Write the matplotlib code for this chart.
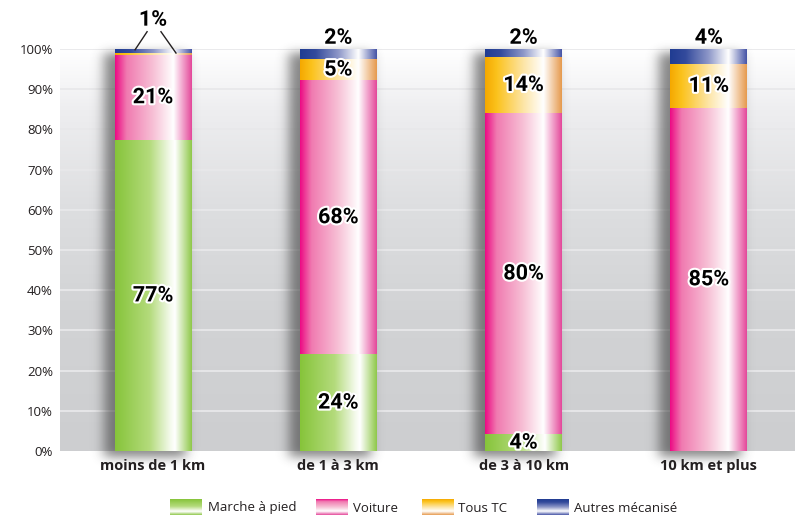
import math
import numpy as np
import matplotlib
matplotlib.use("Agg")
import matplotlib.pyplot as plt
import matplotlib.patheffects as pe
from matplotlib.colors import to_rgb

# ---- data -------------------------------------------------------------
categories = ["moins de 1 km", "de 1 à 3 km", "de 3 à 10 km", "10 km et plus"]
series_names = ["Marche à pied", "Voiture", "Tous TC", "Autres mécanisé"]
marche = [77.4, 24.1, 4.2, 0.0]
voiture = [21.2, 68.1, 79.9, 85.4]
tous_tc = [0.4, 5.4, 13.9, 10.9]
autres = [1.0, 2.4, 2.0, 3.7]
y_ticks = list(range(0, 101, 10))

# ---- styling ----------------------------------------------------------
W, H, DPI = 795, 516, 100
label_font = ["Roboto", "DejaVu Sans"]
text_font = ["Open Sans", "DejaVu Sans"]
ink = "#231f20"

# horizontal gradient stops per series: (position, colour)
gradients = [
    [(0.0, "#86c43a"), (0.45, "#b4db7c"), (0.72, "#f4faec"), (0.78, "#ffffff"), (1.0, "#8fc84a")],
    [(0.0, "#ec0a84"), (0.15, "#f07ab0"), (0.5, "#f7c1d6"), (0.76, "#ffffff"), (1.0, "#e4489a")],
    [(0.0, "#f5a800"), (0.15, "#fbc21c"), (0.5, "#fde5a6"), (0.76, "#ffffff"), (1.0, "#e69a4e")],
    [(0.0, "#203c92"), (0.2, "#334a9c"), (0.5, "#8d97c8"), (0.76, "#ffffff"), (1.0, "#4654a6")],
]


def gradient_row(stops, n=256):
    t = np.linspace(0, 1, n)
    pos = [p for p, _ in stops]
    cols = np.array([to_rgb(c) for _, c in stops])
    rgb = np.stack([np.interp(t, pos, cols[:, k]) for k in range(3)], axis=-1)
    return rgb


fig = plt.figure(figsize=(W / DPI, H / DPI), dpi=DPI)
fig.patch.set_facecolor("white")

ax_left, ax_right = 60, 795
ax_top, ax_bottom = 49, 451
ax = fig.add_axes([ax_left / W, (H - ax_bottom) / H,
                   (ax_right - ax_left) / W, (ax_bottom - ax_top) / H])

x_lo, x_hi = -0.502, 3.465
px_x = (x_hi - x_lo) / (ax_right - ax_left)   # data units per pixel (x)
px_y = 100.0 / (ax_bottom - ax_top)           # data units per pixel (y)

# plot-area background: grey at the bottom fading to white at the top
yy = np.linspace(0, 1, 256)
bg_pos = [0.0, 0.35, 0.6, 0.85, 1.0]
bg_col = np.array([to_rgb(c) for c in ["#cdced0", "#d2d3d5", "#dddee0", "#eeeef0", "#ffffff"]])
bg = np.stack([np.interp(yy, bg_pos, bg_col[:, k]) for k in range(3)], axis=-1)[:, None, :]
ax.imshow(bg, extent=[x_lo, x_hi, 0, 100], origin="lower", aspect="auto",
          interpolation="bilinear", zorder=0)

for v in y_ticks[1:]:
    ax.axhline(v, color="#e8e8ea", lw=1.3, zorder=1)

x = np.arange(len(categories))
bar_w = 0.415
stack = [marche, voiture, tous_tc, autres]

verf = np.vectorize(math.erf)


def soft_box(coord, a, b, s):
    return 0.5 * (verf((coord - a) / (s * math.sqrt(2))) - verf((coord - b) / (s * math.sqrt(2))))


# drop shadows behind each bar
for i, xc in enumerate(x):
    total = sum(s[i] for s in stack)
    gx0 = xc - bar_w / 2 - 35 * px_x
    gx1 = xc + bar_w / 2 + 10 * px_x
    gy0 = -25 * px_y
    gy1 = total + 8 * px_y
    nx, ny = 160, 220
    X = np.linspace(gx0, gx1, nx) / px_x
    Y = np.linspace(gy0, gy1, ny) / px_y
    a = (xc - bar_w / 2) / px_x - 11
    b = (xc + bar_w / 2) / px_x - 6
    c = -7
    d = total / px_y - 4
    ax_sx = soft_box(X, a, b, 6.0)
    ax_sy = soft_box(Y, c, d, 5.0)
    alpha = 0.6 * np.outer(ax_sy, ax_sx)
    img = np.zeros((ny, nx, 4))
    img[..., :3] = 0.22
    img[..., 3] = alpha
    ax.imshow(img, extent=[gx0, gx1, gy0, gy1], origin="lower", aspect="auto",
              interpolation="bilinear", zorder=2, clip_on=False)

# stacked gradient bars
stroke = [pe.withStroke(linewidth=3, foreground="white")]
for k, values in enumerate(stack):
    row = gradient_row(gradients[k])[None, :, :]
    for i, xc in enumerate(x):
        v = values[i]
        if v <= 0:
            continue
        bottom = sum(stack[j][i] for j in range(k))
        ax.imshow(row, extent=[xc - bar_w / 2, xc + bar_w / 2, bottom, bottom + v],
                  origin="lower", aspect="auto", interpolation="bilinear", zorder=3)

# value labels
label_size = 15.5
for i, xc in enumerate(x):
    total = sum(s[i] for s in stack)
    for k, values in enumerate(stack):
        v = values[i]
        if round(v) < 1:
            continue
        bottom = sum(stack[j][i] for j in range(k))
        txt = f"{v:.0f}%"
        if k == 3:
            if tous_tc[i] < 1:
                ty = total + 7.3
                ax.plot([xc - 0.097, xc - 0.032], [total - 0.2, total + 4.3],
                        color=ink, lw=1.0, zorder=5, clip_on=False)
                ax.plot([xc + 0.124, xc + 0.043], [total - 1.0, total + 4.3],
                        color=ink, lw=1.0, zorder=5, clip_on=False)
            else:
                ty = total + 2.8
            ax.text(xc, ty, txt, ha="center", va="center", fontsize=label_size,
                    fontweight="bold", family=label_font, color="black",
                    zorder=6, clip_on=False, path_effects=stroke)
        else:
            ax.text(xc, bottom + v / 2, txt, ha="center", va="center", fontsize=label_size,
                    fontweight="bold", family=label_font, color="black",
                    zorder=6, path_effects=stroke)

ax.set_xlim(x_lo, x_hi)
ax.set_ylim(0, 100)
ax.set_aspect("auto")
for sp in ax.spines.values():
    sp.set_visible(False)
ax.set_yticks(y_ticks)
ax.set_yticklabels([f"{v}%" for v in y_ticks], family=text_font, fontsize=9.5, color=ink)
ax.set_xticks(x)
ax.set_xticklabels(categories, family=text_font, fontsize=10.5, fontweight="bold", color=ink)
ax.tick_params(axis="y", length=0, pad=5)
ax.tick_params(axis="x", length=0, pad=6)

# legend with gradient swatches
sw_left = [170, 316, 422, 537]
tx_left = [208, 353, 458, 574]
for k, name in enumerate(series_names):
    sax = fig.add_axes([sw_left[k] / W, 1 / H, 32 / W, 16 / H])
    col = gradient_row(gradients[k])[:, None, :]
    sax.imshow(col, extent=[0, 1, 0, 1], origin="upper", aspect="auto",
               interpolation="bilinear")
    sax.set_axis_off()
    fig.text(tx_left[k] / W, (H - 508) / H, name, family=text_font, fontsize=9.5,
             color=ink, ha="left", va="center")

fig.savefig("out.png", dpi=DPI)
